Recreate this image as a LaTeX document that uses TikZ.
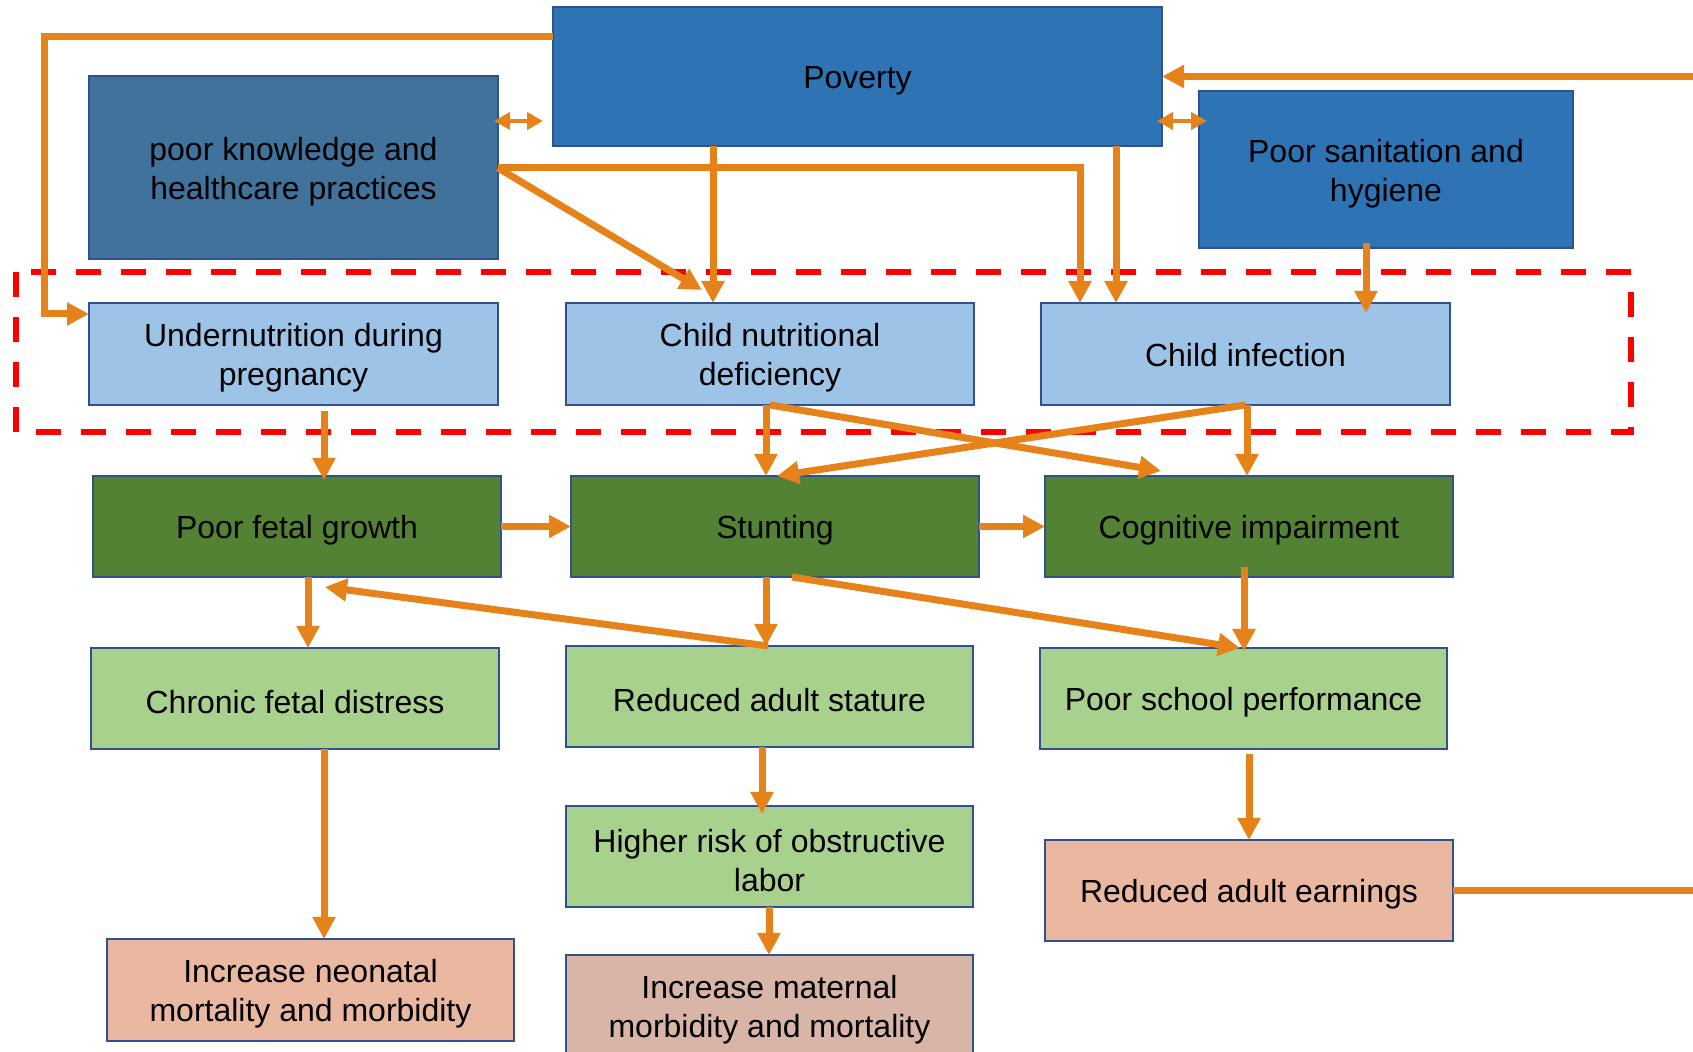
\documentclass[tikz,border=0pt]{standalone}
\usepackage{fontspec}
\setmainfont{Liberation Sans}
\usetikzlibrary{arrows.meta,calc}
\definecolor{povblue}{HTML}{2E74B5}
\definecolor{knowblue}{HTML}{41729C}
\definecolor{lblue}{HTML}{9DC3E6}
\definecolor{dgreen}{HTML}{548235}
\definecolor{lgreen}{HTML}{A9D18E}
\definecolor{salmonfill}{HTML}{EAB8A0}
\definecolor{matfill}{HTML}{D9B5A8}
\definecolor{edgeblue}{HTML}{2F528F}
\definecolor{arrorange}{HTML}{E6821A}
\tikzset{
  box/.style={draw=edgeblue, line width=1.25pt, inner sep=0pt, outer sep=0pt},
  lab/.style={align=center, inner sep=0pt, yshift=-2pt,
    font=\fontsize{16}{19.5}\selectfont},
  arr/.style={draw=arrorange, line width=3.5pt, -{Triangle[length=11pt,width=11pt]}},
  darr/.style={draw=arrorange, line width=2.2pt,
    {Triangle[length=8pt,width=8.5pt]}-{Triangle[length=8pt,width=8.5pt]}},
  reddash/.style={draw=red, line width=3pt, dash pattern=on 12.5pt off 10pt}
}
\begin{document}
\begin{tikzpicture}[x=0.5pt,y=-0.5pt]
\useasboundingbox (0,0) rectangle (1693,1052);
\clip (0,0) rectangle (1693,1052);
\fill[white] (0,0) rectangle (1693,1052);

% nodes
\node[box, fill=povblue, minimum width=304.5pt, minimum height=69.5pt,
  label={[lab]center:Poverty}] (pov) at (857.5,76.5) {};
\node[box, fill=knowblue, minimum width=204.5pt, minimum height=91.5pt,
  label={[lab]center:{poor knowledge and\\healthcare practices}}] (know) at (293.5,167.5) {};
\node[box, fill=povblue, minimum width=187pt, minimum height=78.5pt,
  label={[lab]center:{Poor sanitation and\\hygiene}}] (san) at (1386,169.5) {};

\node[box, fill=lblue, minimum width=204.5pt, minimum height=51pt,
  label={[lab]center:{Undernutrition during\\pregnancy}}] (und) at (293.5,354) {};
\node[box, fill=lblue, minimum width=204pt, minimum height=51pt,
  label={[lab]center:{Child nutritional\\deficiency}}] (cnd) at (770,354) {};
\node[box, fill=lblue, minimum width=204.5pt, minimum height=51pt,
  label={[lab, yshift=1.5pt]center:{Child infection}}] (cinf) at (1245.5,354) {};

\node[box, fill=dgreen, minimum width=204pt, minimum height=50.5pt,
  label={[lab]center:{Poor fetal growth}}] (fetal) at (297,526.5) {};
\node[box, fill=dgreen, minimum width=204pt, minimum height=50.5pt,
  label={[lab]center:{Stunting}}] (stunt) at (775,526.5) {};
\node[box, fill=dgreen, minimum width=204pt, minimum height=50.5pt,
  label={[lab]center:{Cognitive impairment}}] (cog) at (1249,526.5) {};

\node[box, fill=lgreen, minimum width=204pt, minimum height=50.5pt,
  label={[lab]center:{Chronic fetal distress}}] (chron) at (295,698.5) {};
\node[box, fill=lgreen, minimum width=203.5pt, minimum height=50.5pt,
  label={[lab]center:{Reduced adult stature}}] (stat) at (769.5,696.5) {};
\node[box, fill=lgreen, minimum width=203.5pt, minimum height=50.5pt,
  label={[lab]center:{Poor school performance}}] (school) at (1243.5,698.5) {};

\node[box, fill=lgreen, minimum width=203.5pt, minimum height=50.5pt,
  label={[lab]center:{Higher risk of obstructive\\labor}}] (risk) at (769.5,856.5) {};
\node[box, fill=salmonfill, minimum width=204pt, minimum height=50.5pt,
  label={[lab]center:{Reduced adult earnings}}] (earn) at (1249,890.5) {};
\node[box, fill=salmonfill, minimum width=203.5pt, minimum height=51pt,
  label={[lab]center:{Increase neonatal\\mortality and morbidity}}] (neo) at (310.5,990) {};
\node[box, fill=matfill, minimum width=203.5pt, minimum height=51pt,
  label={[lab]center:{Increase maternal\\morbidity and mortality}}] (mat) at (769.5,1006) {};

% red dashed frame
\draw[reddash] (16,272) rectangle (1631,432);

% connectors
\draw[arr] (pov.west |- 0,37) -- (44,37) -- (44,314) -- (und.west |- 0,314);
\draw[darr, shorten <=-2pt, shorten >=5pt] (know.east |- 0,121) -- (pov.west |- 0,121);
\draw[darr, shorten <=-2.5pt, shorten >=-4pt] (pov.east |- 0,121) -- (san.west |- 0,121);
\draw[arr] (earn.east) -- (1730,890.5) -- (1730,76.5) -- (pov.east);

\draw[arr] (know.east |- 0,168) -- ($(702,0 |- cnd.north)+(0,-13)$);
\draw[arr] (know.east |- 0,168) -| (1080,0 |- cinf.north);
\draw[arr] (713,0 |- pov.south) -- (713,0 |- cnd.north);
\draw[arr] (1116,0 |- pov.south) -- (1116,0 |- cinf.north);
\draw[arr, shorten <=-2.5pt, shorten >=-5pt] (1366,0 |- san.south) -- (1366,0 |- cinf.north);

\draw[arr, shorten <=3pt, shorten >=-2pt] (324,0 |- und.south) -- (324,0 |- fetal.north);
\draw[arr] (766,0 |- cnd.south) -- (766,0 |- stunt.north);
\draw[arr] (770,0 |- cnd.south) -- ($(1161,0 |- cog.north)+(0,-5)$);
\draw[arr] (cinf.south) -- (777,0 |- stunt.north);
\draw[arr] (1247,0 |- cinf.south) -- (1247,0 |- cog.north);

\draw[arr] (fetal.east) -- (stunt.west);
\draw[arr] (stunt.east) -- (cog.west);

\draw[arr] (308,0 |- fetal.south) -- (308,0 |- chron.north);
\draw[arr] (768,0 |- stat.north) -- ($(325,0 |- fetal.south)+(0,10)$);
\draw[arr] (766,0 |- stunt.south) -- (766,0 |- stat.north);
\draw[arr] (792,0 |- stunt.south) -- (1240,0 |- school.north);
\draw[arr, shorten <=-5pt, shorten >=-1.5pt] (1244,0 |- cog.south) -- (1244,0 |- school.north);

\draw[arr] (324,0 |- chron.south) -- (324,0 |- neo.north);
\draw[arr, shorten >=-4pt] (762,0 |- stat.south) -- (762,0 |- risk.north);
\draw[arr] (769,0 |- risk.south) -- (769,0 |- mat.north);
\draw[arr, shorten <=2.5pt] (1249,0 |- school.south) -- (1249,0 |- earn.north);
\end{tikzpicture}
\end{document}
